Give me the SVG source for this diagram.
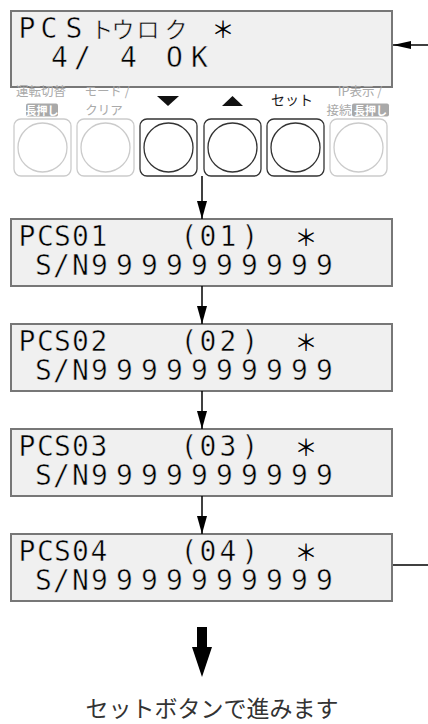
<svg xmlns="http://www.w3.org/2000/svg" width="428" height="724" viewBox="0 0 428 724">
<style>
.box{fill:#f0f0f0;stroke:#777;stroke-width:2}
.t{font-family:"DejaVu Sans Mono",monospace;font-size:28px;fill:#000;text-anchor:middle;stroke:#f0f0f0;stroke-width:0.5}
.k{font-family:"Noto Sans CJK JP",sans-serif;font-size:23px;fill:#000;text-anchor:middle;stroke:#f0f0f0;stroke-width:0.5}
.s{font-family:"Noto Sans CJK JP",sans-serif;font-size:23px;fill:#000;text-anchor:middle}
.lbl{font-family:"Noto Sans CJK JP",sans-serif;font-size:12.5px;fill:#aaa;text-anchor:middle}
.badge{fill:#a9a9a9}
.bt{font-family:"Noto Sans CJK JP",sans-serif;font-size:11px;fill:#fff;text-anchor:middle;font-weight:bold}
.on{fill:#fff;stroke:#333;stroke-width:1.3}
.off{fill:#fff;stroke:#cbcbcb;stroke-width:1.3}
.conn line{stroke:#000;stroke-width:1.5}
</style>
<defs>
<marker id="ah" viewBox="0 0 18 10" refX="18" refY="5" markerWidth="18" markerHeight="10" markerUnits="userSpaceOnUse" orient="auto"><path d="M0,0 L18,5 L0,10 z" fill="#000"/></marker>
<marker id="ah2" viewBox="0 0 18 8" refX="18" refY="4" markerWidth="18" markerHeight="8" markerUnits="userSpaceOnUse" orient="auto"><path d="M0,0 L18,4 L0,8 z" fill="#000"/></marker>
</defs>

<g id="lcd-top">
<rect class="box" x="11" y="11" width="381" height="76"/>
<text class="t" y="38" x="27 49 74">PCS</text>
<text class="k" y="38" x="102 123 148 176">トウロク</text>
<text class="s" y="38" x="223">＊</text>
<text class="t" y="67" x="59.5 82.5">4/</text>
<text class="t" y="67" x="128.5">4</text>
<text class="t" y="67" x="174.5 199.5">OK</text>
</g>

<g id="buttons">
<text class="lbl" x="41" y="95.5">運転切替</text>
<rect class="badge" x="26" y="103.5" width="32" height="13" rx="2"/>
<text class="bt" x="42" y="114.5">長押し</text>
<text class="lbl" x="107" y="95.5">モード /</text>
<text class="lbl" x="104" y="114.5">クリア</text>
<polygon points="157,96 179,96 168,106" fill="#111"/>
<polygon points="222,106 243,106 232.5,96" fill="#111"/>
<text class="lbl" x="292" y="105" style="fill:#1a1a1a;font-size:14px">セット</text>
<text class="lbl" x="360" y="95.5">IP表示 /</text>
<text class="lbl" x="339" y="114.5">接続</text>
<rect class="badge" x="352" y="103.5" width="37" height="13" rx="2"/>
<text class="bt" x="370.5" y="114.5">長押し</text>
<g id="btn1"><rect class="off" x="14" y="119" width="57" height="57" rx="7"/><circle class="off" cx="42.5" cy="147.5" r="24.5"/></g>
<g id="btn2"><rect class="off" x="77" y="119" width="57" height="57" rx="7"/><circle class="off" cx="105.5" cy="147.5" r="24.5"/></g>
<g id="btn3"><rect class="on" x="140" y="119" width="57" height="57" rx="7"/><circle class="on" cx="168.5" cy="147.5" r="24.5"/></g>
<g id="btn4"><rect class="on" x="204" y="119" width="57" height="57" rx="7"/><circle class="on" cx="232.5" cy="147.5" r="24.5"/></g>
<g id="btn5"><rect class="on" x="267" y="119" width="57" height="57" rx="7"/><circle class="on" cx="295.5" cy="147.5" r="24.5"/></g>
<g id="btn6"><rect class="off" x="330" y="119" width="57" height="57" rx="7"/><circle class="off" cx="358.5" cy="147.5" r="24.5"/></g>
</g>

<g id="pcs01">
<rect class="box" x="11" y="219" width="381" height="67"/>
<text class="t" y="246" x="27 45.5 62.5 80.5 99">PCS01</text>
<text class="t" y="246" x="189 208 228 250">(01)</text>
<text class="s" y="246" x="306">＊</text>
<text class="t" y="275" x="43.5 61.5 80.5 99.5 124.5 149.5 174.5 199.5 224.5 249.5 274.5 299.5 324.5">S/N9999999999</text>
</g>
<g id="pcs02">
<rect class="box" x="11" y="324" width="381" height="67"/>
<text class="t" y="351" x="27 45.5 62.5 80.5 99">PCS02</text>
<text class="t" y="351" x="189 208 228 250">(02)</text>
<text class="s" y="351" x="306">＊</text>
<text class="t" y="380" x="43.5 61.5 80.5 99.5 124.5 149.5 174.5 199.5 224.5 249.5 274.5 299.5 324.5">S/N9999999999</text>
</g>
<g id="pcs03">
<rect class="box" x="11" y="429" width="381" height="67"/>
<text class="t" y="456" x="27 45.5 62.5 80.5 99">PCS03</text>
<text class="t" y="456" x="189 208 228 250">(03)</text>
<text class="s" y="456" x="306">＊</text>
<text class="t" y="485" x="43.5 61.5 80.5 99.5 124.5 149.5 174.5 199.5 224.5 249.5 274.5 299.5 324.5">S/N9999999999</text>
</g>
<g id="pcs04">
<rect class="box" x="11" y="534" width="381" height="67"/>
<text class="t" y="561" x="27 45.5 62.5 80.5 99">PCS04</text>
<text class="t" y="561" x="189 208 228 250">(04)</text>
<text class="s" y="561" x="306">＊</text>
<text class="t" y="590" x="43.5 61.5 80.5 99.5 124.5 149.5 174.5 199.5 224.5 249.5 274.5 299.5 324.5">S/N9999999999</text>
</g>

<g class="conn" id="connectors">
<line x1="202" y1="176" x2="202" y2="219" marker-end="url(#ah)"/>
<line x1="202" y1="286" x2="202" y2="324" marker-end="url(#ah)"/>
<line x1="202" y1="391" x2="202" y2="429" marker-end="url(#ah)"/>
<line x1="202" y1="496" x2="202" y2="534" marker-end="url(#ah)"/>
<line x1="428" y1="45" x2="393" y2="45" marker-end="url(#ah2)"/>
<line x1="393" y1="565" x2="428" y2="565"/>
<polygon points="197,627 207,627 207,647 212,647 202,677 192,647 197,647" fill="#000" stroke="none"/>
</g>

<text id="caption" x="212" y="717" style="font-family:'Noto Sans CJK JP',sans-serif;font-size:23px;fill:#333;text-anchor:middle">セットボタンで進みます</text>
</svg>
